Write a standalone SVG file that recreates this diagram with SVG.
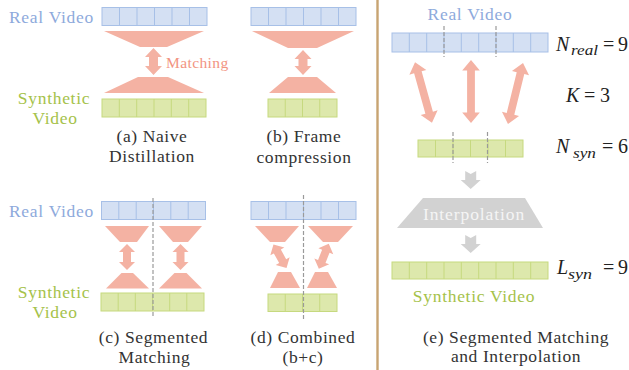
<svg xmlns="http://www.w3.org/2000/svg" width="629" height="370" viewBox="0 0 629 370" font-family="'Liberation Serif', 'DejaVu Serif', serif">
  <style>
    text { font-family: 'Liberation Serif', 'DejaVu Serif', serif; }
    .cap { font-size: 17.5px; letter-spacing: 0.6px; fill: #333333; text-anchor: middle; }
    .lblB { font-size: 17.5px; letter-spacing: 0.7px; fill: #8eaadc; }
    .lblG { font-size: 17.5px; letter-spacing: 0.7px; fill: #a5c24a; text-anchor: middle; }
    .match { font-size: 15.5px; letter-spacing: 0.4px; fill: #f29482; }
    .real { fill: #d4e0f3; stroke: #a7c0e7; stroke-width: 1; }
    .realsep { fill: none; stroke: #a7c0e7; stroke-width: 1; }
    .syn { fill: #dde8ac; stroke: #c6d97f; stroke-width: 1; }
    .synsep { fill: none; stroke: #c6d97f; stroke-width: 1; }
    .salmon { fill: #f4b2a3; }
    .grey { fill: #d2d2d2; }
    .dash { stroke: #9a9a9a; stroke-width: 1.2; stroke-dasharray: 4 2; fill: none; }
    .math { font-size: 20px; fill: #222222; }
    .mi { font-style: italic; }
    .sub { font-size: 15px; font-style: italic; fill: #222222; }
    .interp { font-size: 17.5px; letter-spacing: 0.9px; fill: #f5f5f5; text-anchor: middle; }
  </style>
  <defs>
    <!-- short double-headed arrow, vertical, centred on the origin -->
    <polygon id="dbl27" points="0,-13.5 8,-5.5 4,-5.5 4,5.5 8,5.5 0,13.5 -8,5.5 -4,5.5 -4,-5.5 -8,-5.5"/>
    <!-- long double-headed arrow for panel (e) -->
    <polygon id="dbl63" points="0,-31.5 8.8,-21 3.9,-21 3.9,21 8.8,21 0,31.5 -8.8,21 -3.9,21 -3.9,-21 -8.8,-21"/>
    <!-- grey downward arrow -->
    <polygon id="down" points="-5.5,0 0,3 5.5,0 5.5,9 10,9 0,18 -10,9 -5.5,9"/>
  </defs>

  <rect width="629" height="370" fill="#ffffff"/>

  <!-- panel (a): naive distillation -->
  <g id="panel-a">
    <text class="lblB" x="9" y="23">Real Video</text>
    <rect class="real" x="102" y="7.5" width="105" height="18"/>
    <path class="realsep" d="M119.5 7.5V25.5M137 7.5V25.5M154.5 7.5V25.5M172 7.5V25.5M189.5 7.5V25.5"/>
    <polygon class="salmon" points="104,31 204,31 167,47 140,47"/>
    <polygon class="salmon" points="153.5,48 162,57 158,57 158,66 162,66 153.5,75 145,66 149,66 149,57 145,57"/>
    <text class="match" x="166" y="68">Matching</text>
    <polygon class="salmon" points="138,77 168,77 204,93 104,93"/>
    <rect class="syn" x="102" y="99" width="104" height="18"/>
    <path class="synsep" d="M119.3 99V117M136.7 99V117M154 99V117M171.3 99V117M188.7 99V117"/>
    <text class="lblG" x="54" y="104">Synthetic</text>
    <text class="lblG" x="55" y="124">Video</text>
    <text class="cap" x="152" y="142">(a) Naive</text>
    <text class="cap" x="152" y="162">Distillation</text>
  </g>

  <!-- panel (b): frame compression -->
  <g id="panel-b">
    <rect class="real" x="251" y="7.5" width="105" height="18"/>
    <path class="realsep" d="M268.5 7.5V25.5M286 7.5V25.5M303.5 7.5V25.5M321 7.5V25.5M338.5 7.5V25.5"/>
    <polygon class="salmon" points="252,31 354,31 317,48 288,48"/>
    <polygon class="salmon" points="303,50 311.5,59 307.5,59 307.5,66 311.5,66 303,75 294.5,66 298.5,66 298.5,59 294.5,59"/>
    <polygon class="salmon" points="288,77 317,77 336,93 269,93"/>
    <rect class="syn" x="268" y="99" width="69" height="18"/>
    <path class="synsep" d="M285.25 99V117M302.5 99V117M319.75 99V117"/>
    <text class="cap" x="304" y="142">(b) Frame</text>
    <text class="cap" x="304" y="163">compression</text>
  </g>

  <!-- panel (c): segmented matching -->
  <g id="panel-c">
    <text class="lblB" x="9" y="217">Real Video</text>
    <rect class="real" x="101.5" y="201.5" width="104" height="18"/>
    <path class="realsep" d="M118.8 201.5V219.5M136.2 201.5V219.5M153.5 201.5V219.5M170.8 201.5V219.5M188.2 201.5V219.5"/>
    <polygon class="salmon" points="105,226 149,226 137,242 120,242"/>
    <polygon class="salmon" points="159,226 202,226 188,242 173,242"/>
    <polygon class="salmon" points="127,244 135,252 131,252 131,262 135,262 127,270 119,262 123,262 123,252 119,252"/>
    <polygon class="salmon" points="180.5,244 188.5,252 184.5,252 184.5,262 188.5,262 180.5,270 172.5,262 176.5,262 176.5,252 172.5,252"/>
    <polygon class="salmon" points="121.5,273 133,273 149,288.5 106,288.5"/>
    <polygon class="salmon" points="174.5,273 186.5,273 202,288.5 159,288.5"/>
    <rect class="syn" x="101" y="293" width="103" height="18"/>
    <path class="synsep" d="M118.2 293V311M135.3 293V311M152.5 293V311M169.7 293V311M186.8 293V311"/>
    <line class="dash" x1="153" y1="198" x2="153" y2="317"/>
    <text class="lblG" x="54" y="298">Synthetic</text>
    <text class="lblG" x="55" y="318">Video</text>
    <text class="cap" x="153.5" y="343">(c) Segmented</text>
    <text class="cap" x="154.5" y="363">Matching</text>
  </g>

  <!-- panel (d): combined -->
  <g id="panel-d">
    <rect class="real" x="251" y="201.5" width="105" height="18"/>
    <path class="realsep" d="M268.5 201.5V219.5M286 201.5V219.5M303.5 201.5V219.5M321 201.5V219.5M338.5 201.5V219.5"/>
    <polygon class="salmon" points="255,226 299,226 285,242 270,242"/>
    <polygon class="salmon" points="308,226 353,226 338,242 323,242"/>
    <use href="#dbl27" class="salmon" transform="translate(280,256.3) rotate(-29)"/>
    <use href="#dbl27" class="salmon" transform="translate(323.8,256.3) rotate(21.6)"/>
    <polygon class="salmon" points="278,272 291,272 300,288 270,288"/>
    <polygon class="salmon" points="315,272 328,272 337,288 307,288"/>
    <rect class="syn" x="268" y="294" width="69" height="17.5"/>
    <path class="synsep" d="M285.25 294V311.5M302.5 294V311.5M319.75 294V311.5"/>
    <line class="dash" x1="303.5" y1="195" x2="303.5" y2="320"/>
    <text class="cap" x="303" y="343">(d) Combined</text>
    <text class="cap" x="303" y="363">(b+c)</text>
  </g>

  <!-- vertical separator -->
  <rect x="376.3" y="0" width="2.4" height="370" fill="#c8a472"/>

  <!-- panel (e): segmented matching and interpolation -->
  <g id="panel-e">
    <text class="lblB" x="470" y="20" text-anchor="middle">Real Video</text>
    <rect class="real" x="392" y="33" width="156" height="19"/>
    <path class="realsep" d="M409.3 33V52M426.7 33V52M444 33V52M461.3 33V52M478.7 33V52M496 33V52M513.3 33V52M530.7 33V52"/>
    <line class="dash" x1="444" y1="26" x2="444" y2="57"/>
    <line class="dash" x1="496" y1="26" x2="496" y2="57"/>
    <text class="math mi" x="556" y="50.5">N</text>
    <text class="sub" x="571" y="55" textLength="27" lengthAdjust="spacingAndGlyphs">real</text>
    <text class="math" x="603" y="50.5">=</text>
    <text class="math" x="618" y="50.5">9</text>

    <use href="#dbl63" class="salmon" transform="translate(423.5,92.5) rotate(-15.6)"/>
    <use href="#dbl63" class="salmon" transform="translate(471,91.5)"/>
    <use href="#dbl63" class="salmon" transform="translate(515.5,93.5) rotate(13.8)"/>

    <text class="math mi" x="566" y="101.5">K</text>
    <text class="math" x="584" y="101.5">=</text>
    <text class="math" x="600" y="101.5">3</text>

    <rect class="syn" x="418" y="140" width="105" height="17"/>
    <path class="synsep" d="M435.5 140V157M453 140V157M470.5 140V157M488 140V157M505.5 140V157"/>
    <line class="dash" x1="453" y1="132" x2="453" y2="163"/>
    <line class="dash" x1="487.5" y1="132" x2="487.5" y2="163"/>
    <text class="math mi" x="556" y="153">N</text>
    <text class="sub" x="573" y="157.5" textLength="23" lengthAdjust="spacingAndGlyphs">syn</text>
    <text class="math" x="602" y="153">=</text>
    <text class="math" x="618" y="153">6</text>

    <use href="#down" class="grey" transform="translate(470.7,171)"/>
    <polygon class="grey" points="423,198 525,198 543,228 397,228"/>
    <text class="interp" x="474" y="220">Interpolation</text>
    <use href="#down" class="grey" transform="translate(470.7,235)"/>

    <rect class="syn" x="392" y="262" width="156" height="17"/>
    <path class="synsep" d="M409.3 262V279M426.7 262V279M444 262V279M461.3 262V279M478.7 262V279M496 262V279M513.3 262V279M530.7 262V279"/>
    <text class="math mi" x="557" y="274">L</text>
    <text class="sub" x="568" y="278.5" textLength="24" lengthAdjust="spacingAndGlyphs">syn</text>
    <text class="math" x="603" y="274">=</text>
    <text class="math" x="618" y="274">9</text>

    <text class="lblG" x="474" y="302">Synthetic Video</text>
    <text class="cap" x="516" y="343">(e) Segmented Matching</text>
    <text class="cap" x="516" y="362">and Interpolation</text>
  </g>
</svg>
